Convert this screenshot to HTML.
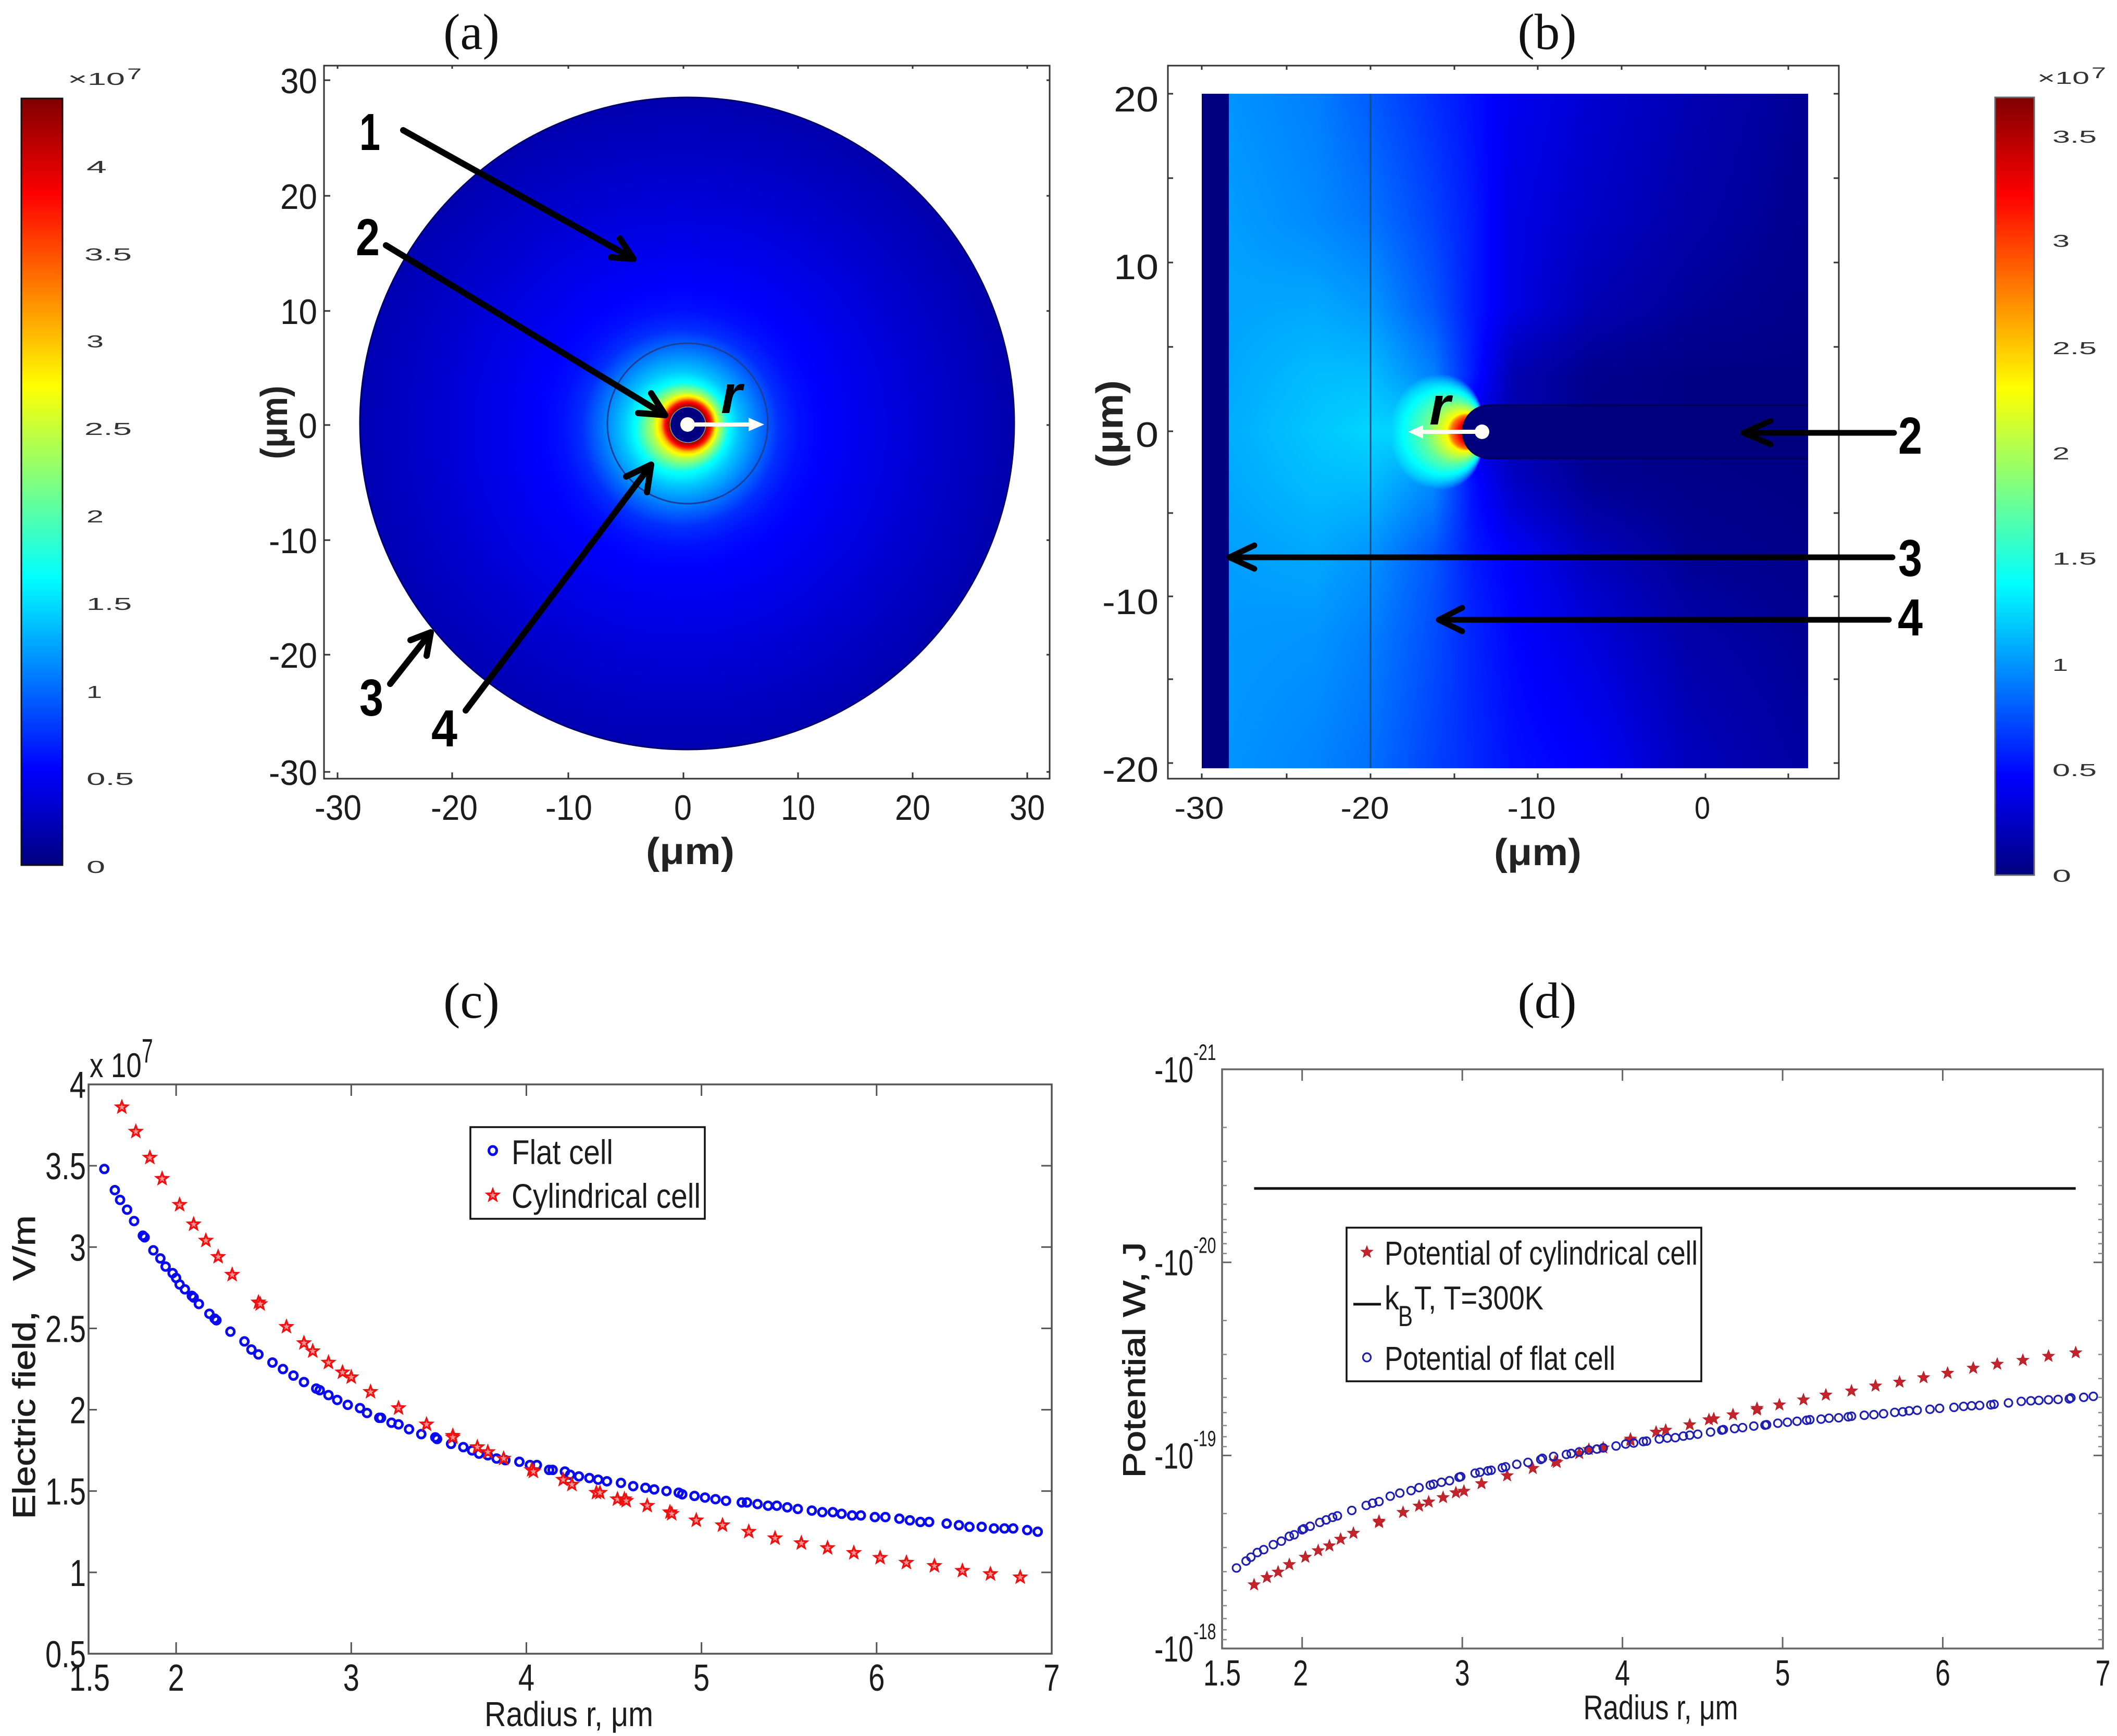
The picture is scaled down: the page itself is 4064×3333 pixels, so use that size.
<!DOCTYPE html>
<html lang="en">
<head>
<meta charset="utf-8">
<title>Electric field and potential near cell protrusions</title>
<style>
html,body{margin:0;padding:0;background:#fff;}
#page{position:relative;width:4064px;height:3333px;overflow:hidden;background:#fff;}
canvas{position:absolute;display:block;}
svg{position:absolute;left:0;top:0;}
text{font-family:"Liberation Sans",sans-serif;fill:#1c1c1c;white-space:pre;}
.ttl{font-family:"Liberation Serif",serif;font-size:97px;fill:#111;}
.tk{font-size:68px;}
.cb{font-size:33px;fill:#333;}
.num{font-size:100px;font-weight:bold;fill:#000;}
.um{font-size:72px;font-weight:bold;fill:#222;}
.rr{font-size:104px;font-weight:bold;font-style:italic;fill:#000;}
.hv{stroke:#1c1c1c;stroke-width:1px;}
</style>
</head>
<body>
<div id="page">
<canvas id="fieldA" width="1256" height="1252" style="left:691px;top:187px;width:1256px;height:1252px"></canvas>
<canvas id="fieldB" width="1164" height="1295" style="left:2307px;top:180px;width:1164px;height:1295px"></canvas>
<svg id="fig" xmlns="http://www.w3.org/2000/svg" width="4064" height="3333" viewBox="0 0 4064 3333">
<defs>
<linearGradient id="jetV" x1="0" y1="0" x2="0" y2="1">
<stop offset="0" stop-color="#800000"/><stop offset=".125" stop-color="#ff0000"/><stop offset=".375" stop-color="#ffff00"/><stop offset=".625" stop-color="#00ffff"/><stop offset=".875" stop-color="#0000ff"/><stop offset="1" stop-color="#000080"/>
</linearGradient>
</defs>

<!-- titles -->
<text class="ttl" x="905" y="94" text-anchor="middle">(a)</text>
<text class="ttl" x="2970" y="94" text-anchor="middle">(b)</text>
<text class="ttl" x="905" y="1954" text-anchor="middle">(c)</text>
<text class="ttl" x="2970" y="1954" text-anchor="middle">(d)</text>

<!-- colorbar a -->
<g>
<rect x="41" y="189" width="79" height="1472" fill="url(#jetV)" stroke="#111" stroke-width="3"/>
<text class="cb" x="130" y="163" textLength="110" lengthAdjust="spacingAndGlyphs">×10</text>
<text class="cb" x="244" y="152" textLength="28" lengthAdjust="spacingAndGlyphs" style="font-size:30px">7</text>
<text class="cb" x="166" y="332" textLength="39" lengthAdjust="spacingAndGlyphs">4</text>
<text class="cb" x="162" y="500" textLength="91" lengthAdjust="spacingAndGlyphs">3.5</text>
<text class="cb" x="166" y="667" textLength="33" lengthAdjust="spacingAndGlyphs">3</text>
<text class="cb" x="162" y="835" textLength="91" lengthAdjust="spacingAndGlyphs">2.5</text>
<text class="cb" x="166" y="1003" textLength="33" lengthAdjust="spacingAndGlyphs">2</text>
<text class="cb" x="166" y="1171" textLength="87" lengthAdjust="spacingAndGlyphs">1.5</text>
<text class="cb" x="166" y="1340" textLength="30" lengthAdjust="spacingAndGlyphs">1</text>
<text class="cb" x="166" y="1507" textLength="91" lengthAdjust="spacingAndGlyphs">0.5</text>
<text class="cb" x="166" y="1676" textLength="36" lengthAdjust="spacingAndGlyphs">0</text>
</g>

<!-- colorbar b -->
<g>
<rect x="3830" y="187" width="75" height="1493" fill="url(#jetV)" stroke="#666" stroke-width="3"/>
<text class="cb" x="3911" y="161" textLength="100" lengthAdjust="spacingAndGlyphs">×10</text>
<text class="cb" x="4015" y="150" textLength="28" lengthAdjust="spacingAndGlyphs" style="font-size:30px">7</text>
<text class="cb" x="3940" y="274" textLength="85" lengthAdjust="spacingAndGlyphs">3.5</text>
<text class="cb" x="3940" y="474" textLength="33" lengthAdjust="spacingAndGlyphs">3</text>
<text class="cb" x="3940" y="680" textLength="85" lengthAdjust="spacingAndGlyphs">2.5</text>
<text class="cb" x="3940" y="882" textLength="33" lengthAdjust="spacingAndGlyphs">2</text>
<text class="cb" x="3940" y="1084" textLength="85" lengthAdjust="spacingAndGlyphs">1.5</text>
<text class="cb" x="3940" y="1288" textLength="30" lengthAdjust="spacingAndGlyphs">1</text>
<text class="cb" x="3940" y="1490" textLength="85" lengthAdjust="spacingAndGlyphs">0.5</text>
<text class="cb" x="3940" y="1693" textLength="36" lengthAdjust="spacingAndGlyphs">0</text>
</g>

<!-- panel a -->
<g>
<rect x="622" y="126" width="1393" height="1369" fill="none" stroke="#333" stroke-width="3"/>
<path stroke="#333" stroke-width="3" fill="none" d="M648 1495v-12M868 1495v-12M1091 1495v-12M1312 1495v-12M1532 1495v-12M1752 1495v-12M1972 1495v-12M622 154h12M622 376h12M622 597h12M622 816h12M622 1037h12M622 1257h12M622 1482h12M648 126v6M868 126v6M1091 126v6M1312 126v6M1532 126v6M1752 126v6M1972 126v6M2015 154h-6M2015 376h-6M2015 597h-6M2015 816h-6M2015 1037h-6M2015 1257h-6M2015 1482h-6"/>
<ellipse cx="1319" cy="813" rx="628" ry="626" fill="none" stroke="#00006a" stroke-width="3"/>
<circle cx="1320" cy="813" r="154" fill="none" stroke="#1c3f9c" stroke-width="3"/>
<text class="tk" x="609" y="179" text-anchor="end" textLength="71" lengthAdjust="spacingAndGlyphs">30</text>
<text class="tk" x="609" y="401" text-anchor="end" textLength="71" lengthAdjust="spacingAndGlyphs">20</text>
<text class="tk" x="609" y="622" text-anchor="end" textLength="71" lengthAdjust="spacingAndGlyphs">10</text>
<text class="tk" x="609" y="841" text-anchor="end" textLength="36" lengthAdjust="spacingAndGlyphs">0</text>
<text class="tk" x="609" y="1062" text-anchor="end" textLength="93" lengthAdjust="spacingAndGlyphs">-10</text>
<text class="tk" x="609" y="1282" text-anchor="end" textLength="93" lengthAdjust="spacingAndGlyphs">-20</text>
<text class="tk" x="609" y="1507" text-anchor="end" textLength="93" lengthAdjust="spacingAndGlyphs">-30</text>
<text class="tk" x="649" y="1574" text-anchor="middle" textLength="90" lengthAdjust="spacingAndGlyphs">-30</text>
<text class="tk" x="872" y="1574" text-anchor="middle" textLength="90" lengthAdjust="spacingAndGlyphs">-20</text>
<text class="tk" x="1092" y="1574" text-anchor="middle" textLength="90" lengthAdjust="spacingAndGlyphs">-10</text>
<text class="tk" x="1311" y="1574" text-anchor="middle" textLength="34" lengthAdjust="spacingAndGlyphs">0</text>
<text class="tk" x="1532" y="1574" text-anchor="middle" textLength="66" lengthAdjust="spacingAndGlyphs">10</text>
<text class="tk" x="1752" y="1574" text-anchor="middle" textLength="68" lengthAdjust="spacingAndGlyphs">20</text>
<text class="tk" x="1972" y="1574" text-anchor="middle" textLength="68" lengthAdjust="spacingAndGlyphs">30</text>
<text class="um" x="1325" y="1659" text-anchor="middle" textLength="170" lengthAdjust="spacingAndGlyphs">(μm)</text>
<text class="um" transform="translate(551,811) rotate(-90)" text-anchor="middle" textLength="141" lengthAdjust="spacingAndGlyphs">(μm)</text>

<g stroke="#000" stroke-width="12" stroke-linecap="round" stroke-linejoin="round" fill="none">
<path d="M774 250L1216 497M1173 494L1216 497L1190 458"/>
<path d="M741 471L1277 797M1225 793L1277 797L1250 755"/>
<path d="M749 1313L827 1214M788 1229L827 1214L819 1259"/>
<path d="M894 1364L1250 892M1202 915L1250 892L1242 945"/>
</g>
<text class="num" x="710" y="288" text-anchor="middle" textLength="40" lengthAdjust="spacingAndGlyphs">1</text>
<text class="num" x="706" y="490" text-anchor="middle" textLength="46" lengthAdjust="spacingAndGlyphs">2</text>
<text class="num" x="713" y="1374" text-anchor="middle" textLength="46" lengthAdjust="spacingAndGlyphs">3</text>
<text class="num" x="853" y="1433" text-anchor="middle" textLength="50" lengthAdjust="spacingAndGlyphs">4</text>
<text class="rr" x="1384" y="793">r</text>
<g>
<circle cx="1320" cy="815" r="14" fill="#fdfdf5"/>
<path d="M1320 811H1437V802L1467 815L1437 828V819H1320Z" fill="#fdfdf5"/>
</g>
</g>

<!-- panel b -->
<g>
<rect x="2242" y="126" width="1288" height="1369" fill="none" stroke="#333" stroke-width="3"/>
<path stroke="#333" stroke-width="3" fill="none" d="M2307 1495v-10M2470 1495v-10M2631 1495v-10M2792 1495v-10M2952 1495v-10M3113 1495v-10M3274 1495v-10M3433 1495v-10M2307 126v8M2470 126v8M2631 126v8M2792 126v8M2952 126v8M3113 126v8M3274 126v8M3433 126v8M2242 180h10M2242 342h10M2242 504h10M2242 666h10M2242 828h10M2242 985h10M2242 1145h10M2242 1304h10M2242 1465h10M3530 180h-10M3530 342h-10M3530 504h-10M3530 666h-10M3530 828h-10M3530 985h-10M3530 1145h-10M3530 1304h-10M3530 1465h-10"/>
<line x1="2631" y1="180" x2="2631" y2="1475" stroke="#0f4f86" stroke-width="3"/>
<path d="M3471 778H2859A51 51 0 0 0 2859 880H3471" fill="#00007e" stroke="#000058" stroke-width="3"/>
<text class="tk" x="2224" y="214" text-anchor="end" textLength="86" lengthAdjust="spacingAndGlyphs">20</text>
<text class="tk" x="2224" y="536" text-anchor="end" textLength="86" lengthAdjust="spacingAndGlyphs">10</text>
<text class="tk" x="2224" y="858" text-anchor="end" textLength="44" lengthAdjust="spacingAndGlyphs">0</text>
<text class="tk" x="2224" y="1179" text-anchor="end" textLength="108" lengthAdjust="spacingAndGlyphs">-10</text>
<text class="tk" x="2224" y="1501" text-anchor="end" textLength="108" lengthAdjust="spacingAndGlyphs">-20</text>
<text class="tk" x="2302" y="1572" text-anchor="middle" textLength="95" lengthAdjust="spacingAndGlyphs" style="font-size:60px">-30</text>
<text class="tk" x="2620" y="1572" text-anchor="middle" textLength="93" lengthAdjust="spacingAndGlyphs" style="font-size:60px">-20</text>
<text class="tk" x="2940" y="1572" text-anchor="middle" textLength="93" lengthAdjust="spacingAndGlyphs" style="font-size:60px">-10</text>
<text class="tk" x="3268" y="1572" text-anchor="middle" textLength="30" lengthAdjust="spacingAndGlyphs" style="font-size:60px">0</text>
<text class="um" x="2952" y="1661" text-anchor="middle" textLength="168" lengthAdjust="spacingAndGlyphs">(μm)</text>
<text class="um" transform="translate(2155,814) rotate(-90)" text-anchor="middle" textLength="168" lengthAdjust="spacingAndGlyphs">(μm)</text>
<g stroke="#000" stroke-width="11" stroke-linecap="round" stroke-linejoin="round" fill="none">
<path d="M3636 831H3347M3399 808L3347 831L3399 853"/>
<path d="M3633 1070H2360M2408 1047L2360 1070L2408 1092"/>
<path d="M3626 1190H2762M2807 1167L2762 1190L2807 1212"/>
</g>
<text class="num" x="3667" y="871" text-anchor="middle" textLength="46" lengthAdjust="spacingAndGlyphs">2</text>
<text class="num" x="3667" y="1106" text-anchor="middle" textLength="46" lengthAdjust="spacingAndGlyphs">3</text>
<text class="num" x="3667" y="1220" text-anchor="middle" textLength="48" lengthAdjust="spacingAndGlyphs">4</text>
<text class="rr" x="2744" y="815">r</text>
<g>
<path d="M2845 825H2732V816L2703 829L2732 842V833H2845Z" fill="#fdfdf5"/>
<circle cx="2845" cy="829" r="14" fill="#fdfdf5"/>
</g>
</g>

<!-- panel c static -->
<g id="panelC">
<rect x="170" y="2082" width="1849" height="1093" fill="none" stroke="#555" stroke-width="3.5"/>
<text transform="translate(172,2068) scale(.8,1)" style="font-size:66px">x 10</text>
<text transform="translate(272,2040) scale(.6,1)" style="font-size:65px">7</text>
<text x="1092" y="3314" text-anchor="middle" textLength="324" lengthAdjust="spacingAndGlyphs" style="font-size:67px">Radius r, μm</text>
<text class="hv" transform="translate(67,2625) rotate(-90)" text-anchor="middle" textLength="583" lengthAdjust="spacingAndGlyphs" style="font-size:60px">Electric field,   V/m</text>
</g>

<!-- panel d static -->
<g id="panelD">
<rect x="2346" y="2053" width="1691" height="1112" fill="none" stroke="#666" stroke-width="3.5"/>
<text x="3188" y="3301" text-anchor="middle" textLength="297" lengthAdjust="spacingAndGlyphs" style="font-size:66px">Radius r, μm</text>
<text class="hv" transform="translate(2198,2611) rotate(-90)" text-anchor="middle" textLength="453" lengthAdjust="spacingAndGlyphs" style="font-size:60px">Potential W, J</text>
</g>
</svg>
</div>

<script>
// ---------- panel (c) data ----------
const cFlatRadius = [1.59,1.65,1.68,1.72,1.76,1.81,1.82,1.87,1.91,1.94,1.98,2.00,2.02,2.05,2.09,2.10,2.13,2.19,2.22,2.23,2.31,2.39,2.43,2.47,2.55,2.61,2.67,2.73,2.80,2.82,2.87,2.92,2.98,3.05,3.09,3.16,3.17,3.23,3.27,3.33,3.40,3.48,3.49,3.57,3.64,3.69,3.73,3.78,3.83,3.88,3.96,4.02,4.06,4.13,4.15,4.22,4.25,4.30,4.36,4.41,4.46,4.54,4.61,4.68,4.73,4.80,4.87,4.89,4.96,5.02,5.08,5.14,5.23,5.26,5.32,5.38,5.43,5.49,5.55,5.63,5.69,5.75,5.80,5.86,5.91,5.99,6.05,6.13,6.19,6.25,6.30,6.40,6.47,6.53,6.60,6.67,6.73,6.78,6.86,6.92];
const cFlatField = [3.48,3.35,3.29,3.23,3.16,3.07,3.06,2.98,2.93,2.88,2.84,2.81,2.77,2.74,2.70,2.69,2.65,2.59,2.56,2.55,2.48,2.42,2.37,2.34,2.29,2.25,2.21,2.17,2.13,2.12,2.09,2.06,2.03,2.01,1.98,1.95,1.95,1.92,1.91,1.88,1.85,1.83,1.82,1.79,1.77,1.75,1.73,1.72,1.70,1.69,1.68,1.66,1.66,1.63,1.63,1.62,1.60,1.59,1.58,1.57,1.56,1.55,1.53,1.52,1.51,1.50,1.49,1.48,1.47,1.46,1.45,1.44,1.43,1.43,1.42,1.41,1.41,1.40,1.39,1.38,1.37,1.37,1.36,1.35,1.35,1.34,1.34,1.33,1.32,1.31,1.31,1.30,1.29,1.28,1.28,1.27,1.27,1.27,1.26,1.25];
const cCylRadius = [1.69,1.77,1.85,1.92,2.02,2.10,2.17,2.24,2.32,2.47,2.48,2.63,2.73,2.78,2.87,2.95,3.00,3.11,3.27,3.43,3.58,3.58,3.72,3.78,3.87,4.03,4.04,4.21,4.26,4.40,4.42,4.52,4.56,4.57,4.69,4.82,4.83,4.97,5.12,5.27,5.42,5.57,5.72,5.87,6.02,6.17,6.33,6.49,6.65,6.82];
const cCylField = [3.86,3.71,3.55,3.42,3.26,3.14,3.04,2.94,2.83,2.66,2.65,2.51,2.41,2.36,2.29,2.23,2.20,2.11,2.01,1.91,1.84,1.83,1.77,1.74,1.70,1.63,1.62,1.57,1.54,1.49,1.49,1.45,1.45,1.44,1.41,1.37,1.36,1.32,1.29,1.25,1.21,1.18,1.15,1.12,1.09,1.06,1.04,1.01,0.99,0.97];
const cXTicks = [1.5,2,3,4,5,6,7];
const cXTickLabels = ['1.5','2','3','4','5','6','7'];
const cYTicks = [4,3.5,3,2.5,2,1.5,1,0.5];
const cYTickLabels = ['4','3.5','3','2.5','2','1.5','1','0.5'];

// ---------- panel (d) data (log10 of |W|, joules) ----------
const dFlatRadius = [1.59,1.65,1.68,1.72,1.76,1.82,1.87,1.92,1.95,2.00,2.01,2.05,2.11,2.15,2.19,2.22,2.31,2.40,2.44,2.48,2.55,2.61,2.68,2.73,2.80,2.82,2.87,2.92,2.98,2.99,3.08,3.11,3.16,3.18,3.25,3.27,3.34,3.41,3.49,3.50,3.57,3.65,3.68,3.73,3.79,3.84,3.88,3.96,4.02,4.07,4.13,4.15,4.23,4.28,4.33,4.38,4.42,4.47,4.55,4.62,4.63,4.70,4.75,4.82,4.89,4.90,4.97,5.03,5.09,5.15,5.17,5.24,5.29,5.35,5.41,5.43,5.51,5.57,5.63,5.70,5.75,5.79,5.84,5.92,5.98,6.07,6.13,6.18,6.23,6.30,6.32,6.41,6.49,6.55,6.60,6.66,6.72,6.79,6.80,6.88,6.94];
const dFlatLogW = [-18.417,-18.453,-18.473,-18.497,-18.512,-18.538,-18.556,-18.581,-18.589,-18.615,-18.62,-18.633,-18.653,-18.666,-18.679,-18.687,-18.715,-18.741,-18.753,-18.761,-18.789,-18.805,-18.818,-18.833,-18.846,-18.851,-18.861,-18.869,-18.887,-18.89,-18.908,-18.913,-18.92,-18.923,-18.936,-18.941,-18.954,-18.964,-18.979,-18.985,-18.995,-19.005,-19.01,-19.018,-19.028,-19.033,-19.039,-19.049,-19.059,-19.064,-19.072,-19.074,-19.085,-19.09,-19.092,-19.1,-19.105,-19.11,-19.121,-19.131,-19.134,-19.139,-19.144,-19.152,-19.157,-19.159,-19.167,-19.172,-19.177,-19.182,-19.185,-19.188,-19.193,-19.195,-19.2,-19.203,-19.208,-19.211,-19.216,-19.223,-19.226,-19.231,-19.234,-19.239,-19.244,-19.249,-19.254,-19.257,-19.259,-19.262,-19.265,-19.272,-19.28,-19.283,-19.285,-19.288,-19.29,-19.293,-19.298,-19.301,-19.306];
const dCylRadius = [1.70,1.78,1.85,1.92,2.02,2.10,2.17,2.24,2.32,2.48,2.48,2.63,2.73,2.79,2.88,2.96,3.01,3.12,3.28,3.44,3.58,3.59,3.73,3.79,3.88,4.05,4.05,4.21,4.27,4.42,4.54,4.57,4.69,4.84,4.84,4.98,5.13,5.27,5.43,5.58,5.73,5.88,6.03,6.19,6.34,6.50,6.66,6.83];
const dCylLogW = [-18.33,-18.368,-18.396,-18.435,-18.473,-18.507,-18.532,-18.566,-18.597,-18.653,-18.66,-18.705,-18.738,-18.759,-18.782,-18.807,-18.815,-18.854,-18.895,-18.933,-18.969,-18.964,-19.01,-19.031,-19.039,-19.085,-19.077,-19.121,-19.131,-19.159,-19.185,-19.19,-19.211,-19.236,-19.244,-19.262,-19.288,-19.313,-19.334,-19.36,-19.38,-19.403,-19.426,-19.452,-19.473,-19.493,-19.514,-19.532];
const dThermalRadius = [1.70,6.83];
const dThermalLogW = [-20.383,-20.383];
const dXTicks = [1.5,2,3,4,5,6,7];
const dXTickLabels = ['1.5','2','3','4','5','6','7'];
const dYDecades = [-21,-20,-19,-18];
const dYTickBase = ['-10','-10','-10','-10'];
const dYTickExponents = ['-21','-20','-19','-18'];

// ---------- field map profiles (values are fractions of the colour scale) ----------
const jetStops = [0,.125,.375,.625,.875,1];
const jetR = [0,0,0,255,255,128];
const jetG = [0,0,255,255,0,0];
const jetB = [128,255,255,0,0,0];
const fieldARadius = [0,33,35,40,46,52,62,75,86,110,154,190,228,270,392,514,640];
const fieldAValue = [0,0,.98,.92,.82,.68,.56,.46,.38,.32,.235,.17,.14,.125,.095,.07,.045];
const fieldBHotDist = [38,45,60,68,88,111,145,175,210,260,300];
const fieldBHotValue = [.97,.875,.75,.625,.55,.47,.39,.33,.24,.1,0];
const fieldBColumns = [2360,2526,2631,2752,2827,2902,3053,3241,3467];
const fieldBRows = [195,423,591,717,827,928,1062,1222,1458];
const fieldBGrid = [
  [.27,.25,.215,.17,.14,.11,.08,.05,.02],
  [.28,.26,.24,.19,.15,.10,.07,.04,.015],
  [.285,.29,.275,.21,.15,.10,.05,.025,.01],
  [.29,.31,.31,.25,.15,.05,.015,.005,.005],
  [.295,.32,.335,.33,.1,.05,.01,.005,.005],
  [.29,.31,.31,.26,.14,.07,.02,.01,.005],
  [.28,.29,.27,.21,.15,.12,.06,.02,.01],
  [.275,.27,.25,.20,.16,.13,.09,.04,.02],
  [.27,.255,.235,.19,.165,.14,.12,.06,.03]
];

function interp(xs, ys, x){
  if(x<=xs[0]) return ys[0];
  for(let i=1;i<xs.length;i++){
    if(x<=xs[i]) return ys[i-1]+(ys[i]-ys[i-1])*(x-xs[i-1])/(xs[i]-xs[i-1]);
  }
  return ys[ys.length-1];
}
function gridValue(x,y){
  const col=fieldBRows.map(function(_,i){return interp(fieldBColumns,fieldBGrid[i],x);});
  return interp(fieldBRows,col,y);
}
function paint(id, w, h, fn){
  const ctx=document.getElementById(id).getContext('2d');
  const img=ctx.createImageData(w,h);
  const d=img.data;
  let k=0;
  for(let y=0;y<h;y++){
    for(let x=0;x<w;x++){
      const v=fn(x,y);
      if(v===null){k+=4;continue;}
      d[k++]=interp(jetStops,jetR,v);
      d[k++]=interp(jetStops,jetG,v);
      d[k++]=interp(jetStops,jetB,v);
      d[k++]=255;
    }
  }
  ctx.putImageData(img,0,0);
}
paint('fieldA',1256,1252,function(px,py){
  const x=px+691,y=py+187;
  const ex=(x-1319)/628,ey=(y-813)/626;
  if(ex*ex+ey*ey>1) return null;
  const r=Math.hypot(x-1320,y-815);
  const s=14*Math.min(1,Math.max(0,(r-50)/50));
  const d=r<50?r:Math.hypot(x-(1320-s),y-(815+s/2));
  return interp(fieldARadius,fieldAValue,d);
});
paint('fieldB',1164,1295,function(px,py){
  const x=px+2307,y=py+180;
  if(x<2359) return 0;
  const dx=x-2845,dy=y-829;
  const d=Math.hypot(dx,dy)||1;
  const cosT=-dx/d;
  const g=Math.max(.08,.15+.85*cosT);
  const hot=interp(fieldBHotDist,fieldBHotValue,d/g);
  const base=gridValue(x,y);
  return Math.min(1,Math.max(base,hot));
});

// ---------- svg helpers ----------
const NS='http://www.w3.org/2000/svg';
const panelC=document.getElementById('panelC');
const panelD=document.getElementById('panelD');
function mk(parent,tag,attrs,name){
  const el=document.createElementNS(NS,tag);
  for(const k in attrs) el.setAttribute(k,attrs[k]);
  
  
  parent.appendChild(el);
  return el;
}
function txt(parent,str,x,y,anchor,size,sx,name){
  const el=mk(parent,'text',{transform:'translate('+x+','+y+') scale('+sx+',1)','text-anchor':anchor,style:'font-size:'+size+'px'},name);
  el.textContent=str;
  return el;
}
function starPts(cx,cy,R){
  const p=[];
  for(let i=0;i<10;i++){
    const rad=i%2?R*.42:R;
    const a=-Math.PI/2+i*Math.PI/5;
    p.push((cx+rad*Math.cos(a)).toFixed(1)+','+(cy+rad*Math.sin(a)).toFixed(1));
  }
  return p.join(' ');
}

// ---------- axis functions ----------
const xC=r=>170+(r-1.5)*(2019-170)/5.5;
const yC=v=>3175-(v-.5)*(3175-2082)/3.5;
const xD=r=>2346+(r-1.5)*(4037-2346)/5.5;
const yD=l=>2053+(l+21)*(3165-2053)/3;

// ---------- panel c ----------
cXTicks.forEach(function(t,i){
  if(t>1.5&&t<7){
    mk(panelC,'line',{x1:xC(t),x2:xC(t),y1:2082,y2:2104,stroke:'#555','stroke-width':3},'panel-c-x-tick-top');
    mk(panelC,'line',{x1:xC(t),x2:xC(t),y1:3175,y2:3153,stroke:'#555','stroke-width':3},'panel-c-x-tick-bottom');
  }
  txt(panelC,cXTickLabels[i],xC(t)+(t===1.5?2:0),3246,'middle',72,.78,'panel-c-x-tick-label');
});
cYTicks.forEach(function(t,i){
  if(t>.5&&t<4){
    mk(panelC,'line',{x1:2019,x2:1999,y1:yC(t),y2:yC(t),stroke:'#555','stroke-width':3},'panel-c-y-tick-right');
    mk(panelC,'line',{x1:170,x2:186,y1:yC(t),y2:yC(t),stroke:'#555','stroke-width':3},'panel-c-y-tick-left');
  }
  txt(panelC,cYTickLabels[i],165,yC(t)+26,'end',72,.78,'panel-c-y-tick-label');
});
const cFlatGroup=mk(panelC,'g',{fill:'none',stroke:'#0a0af0','stroke-width':5},'flat-cell-series');
cFlatRadius.forEach(function(r,i){
  const el=mk(cFlatGroup,'ellipse',{cx:xC(r),cy:yC(cFlatField[i]),rx:7.5,ry:7.5},'flat-cell-point');
});
const cCylGroup=mk(panelC,'g',{fill:'#ff9090',stroke:'#f01010','stroke-width':3.4,'stroke-linejoin':'miter'},'cylindrical-cell-series');
cCylRadius.forEach(function(r,i){
  const el=mk(cCylGroup,'polygon',{points:starPts(xC(r),yC(cCylField[i]),11.5)},'cylindrical-cell-point');
});
// legend c
const legC=mk(panelC,'g',{},'panel-c-legend');
mk(legC,'rect',{x:903,y:2164,width:450,height:176,fill:'#fff',stroke:'#111','stroke-width':3.5},'panel-c-legend-box');
mk(legC,'ellipse',{cx:946,cy:2209,rx:7.5,ry:8,fill:'none',stroke:'#0a0af0','stroke-width':5},'legend-flat-cell-marker');
mk(legC,'polygon',{points:starPts(946,2295,11.5),fill:'#ff9090',stroke:'#f01010','stroke-width':3.4},'legend-cylindrical-cell-marker');
const lc1=mk(legC,'text',{x:982,y:2235,textLength:195,lengthAdjust:'spacingAndGlyphs',style:'font-size:66px'},'legend-flat-cell-label');
lc1.textContent='Flat cell';
const lc2=mk(legC,'text',{x:982,y:2319,textLength:363,lengthAdjust:'spacingAndGlyphs',style:'font-size:66px'},'legend-cylindrical-cell-label');
lc2.textContent='Cylindrical cell';

// ---------- panel d ----------
dXTicks.forEach(function(t,i){
  if(t>1.5&&t<7){
    mk(panelD,'line',{x1:xD(t),x2:xD(t),y1:2053,y2:2075,stroke:'#666','stroke-width':3},'panel-d-x-tick-top');
    mk(panelD,'line',{x1:xD(t),x2:xD(t),y1:3165,y2:3143,stroke:'#666','stroke-width':3},'panel-d-x-tick-bottom');
  }
  txt(panelD,dXTickLabels[i],xD(t)-(t===2?3:0),3236,'middle',70,.74,'panel-d-x-tick-label');
});
dYDecades.forEach(function(dec,i){
  const yy=yD(dec);
  if(i>0&&i<3){
    mk(panelD,'line',{x1:2346,x2:2364,y1:yy,y2:yy,stroke:'#666','stroke-width':3},'panel-d-y-tick-left');
    mk(panelD,'line',{x1:4037,x2:4019,y1:yy,y2:yy,stroke:'#666','stroke-width':3},'panel-d-y-tick-right');
  }
  if(i<3){
    [2,3,4,5,6,7,8,9].forEach(function(m){
      const ym=yD(dec+Math.log10(m));
      mk(panelD,'line',{x1:2346,x2:2355,y1:ym,y2:ym,stroke:'#888','stroke-width':2.5},'panel-d-minor-tick-left');
      mk(panelD,'line',{x1:4037,x2:4028,y1:ym,y2:ym,stroke:'#888','stroke-width':2.5},'panel-d-minor-tick-right');
    });
  }
  txt(panelD,dYTickBase[i],2291,yy+25,'end',70,.74,'panel-d-y-tick-base');
  txt(panelD,dYTickExponents[i],2291,yy-18,'start',43,.7,'panel-d-y-tick-exponent');
});
mk(panelD,'line',{x1:xD(dThermalRadius[0]),x2:xD(dThermalRadius[1]),y1:yD(dThermalLogW[0]),y2:yD(dThermalLogW[1]),stroke:'#111','stroke-width':5},'thermal-energy-line');
const dCylGroup=mk(panelD,'g',{fill:'#c4242c',stroke:'#b82028','stroke-width':1.5},'cylindrical-potential-series');
dCylRadius.forEach(function(r,i){
  const el=mk(dCylGroup,'polygon',{points:starPts(xD(r),yD(dCylLogW[i]),11.5)},'cylindrical-potential-point');
});
const dFlatGroup=mk(panelD,'g',{fill:'none',stroke:'#1f1fb4','stroke-width':3.2},'flat-potential-series');
dFlatRadius.forEach(function(r,i){
  const el=mk(dFlatGroup,'ellipse',{cx:xD(r),cy:yD(dFlatLogW[i]),rx:7.5,ry:7.5},'flat-potential-point');
});
// legend d
const legD=mk(panelD,'g',{},'panel-d-legend');
mk(legD,'rect',{x:2585,y:2357,width:681,height:295,fill:'#fff',stroke:'#111','stroke-width':3.5},'panel-d-legend-box');
mk(legD,'polygon',{points:starPts(2624,2404,11.5),fill:'#c4242c',stroke:'#b82028','stroke-width':1.5},'legend-cylindrical-potential-marker');
const ld1=mk(legD,'text',{x:2658,y:2428,textLength:601,lengthAdjust:'spacingAndGlyphs',style:'font-size:64px'},'legend-cylindrical-potential-label');
ld1.textContent='Potential of cylindrical cell';
mk(legD,'line',{x1:2598,x2:2651,y1:2504,y2:2504,stroke:'#111','stroke-width':5},'legend-thermal-line');
const ld2=mk(legD,'text',{x:2658,y:2514,textLength:28,lengthAdjust:'spacingAndGlyphs',style:'font-size:64px'},'legend-k-symbol');
ld2.textContent='k';
const ld3=mk(legD,'text',{x:2684,y:2546,textLength:28,lengthAdjust:'spacingAndGlyphs',style:'font-size:56px'},'legend-b-subscript');
ld3.textContent='B';
const ld4=mk(legD,'text',{x:2715,y:2514,textLength:248,lengthAdjust:'spacingAndGlyphs',style:'font-size:64px'},'legend-thermal-label');
ld4.textContent='T, T=300K';
mk(legD,'ellipse',{cx:2624,cy:2606,rx:7.5,ry:8,fill:'none',stroke:'#1f1fb4','stroke-width':3.2},'legend-flat-potential-marker');
const ld5=mk(legD,'text',{x:2658,y:2630,textLength:443,lengthAdjust:'spacingAndGlyphs',style:'font-size:64px'},'legend-flat-potential-label');
ld5.textContent='Potential of flat cell';
</script>
</body>
</html>
